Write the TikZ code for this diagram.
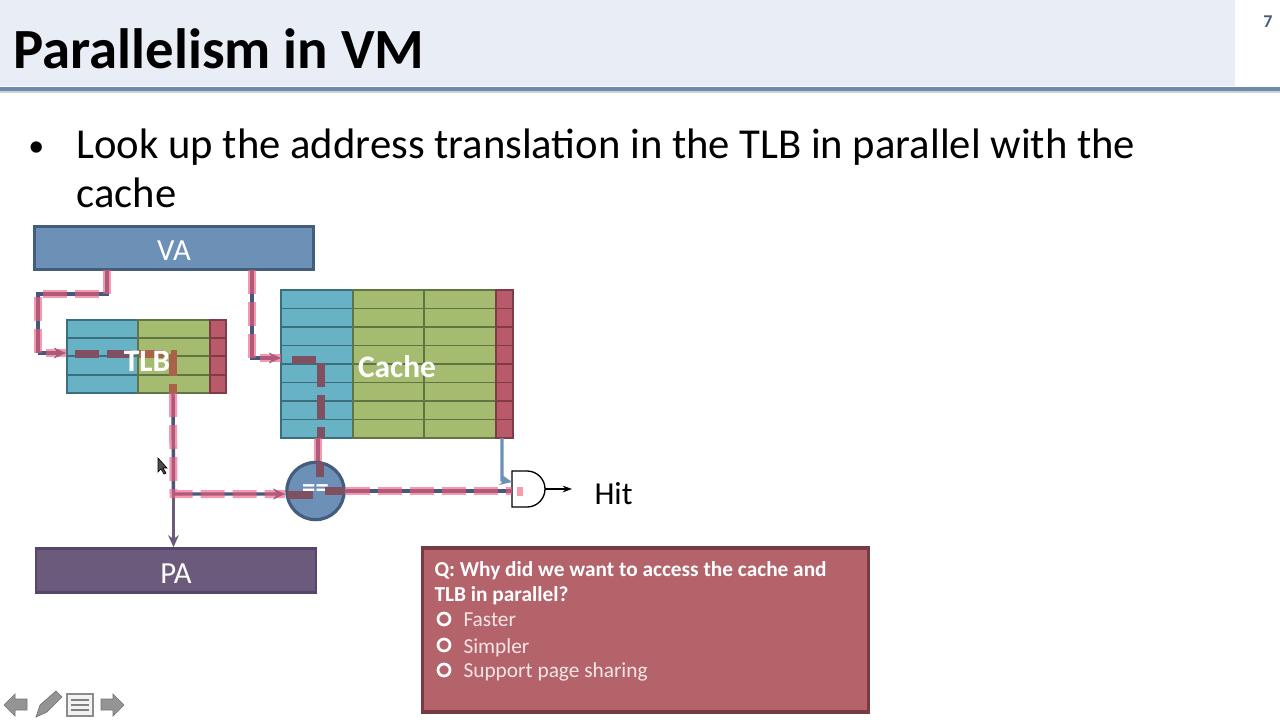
\documentclass[tikz,border=0pt]{standalone}
\usepackage{fontspec}
\setmainfont{Carlito}
\usetikzlibrary{arrows.meta,calc}

\definecolor{headbg}{HTML}{E9EDF5}
\definecolor{headline}{HTML}{6C8CAE}
\definecolor{vablue}{HTML}{6D90B7}
\definecolor{vaedge}{HTML}{445D7C}
\definecolor{paviolet}{HTML}{6B5A7C}
\definecolor{paedge}{HTML}{55476A}
\definecolor{cellteal}{HTML}{67B3C5}
\definecolor{tealedge}{HTML}{3C6F7E}
\definecolor{cellgreen}{HTML}{A5BC70}
\definecolor{greenedge}{HTML}{5F7543}
\definecolor{cellred}{HTML}{B95A6B}
\definecolor{rededge}{HTML}{7E3C48}
\definecolor{wirepink}{HTML}{F0597C}
\definecolor{wireslate}{HTML}{46597A}
\definecolor{dashmaroon}{HTML}{7F4F62}
\definecolor{dashbrown}{HTML}{A8624A}
\definecolor{quizred}{HTML}{B4636B}
\definecolor{quizedge}{HTML}{7A3A44}
\definecolor{quiztext}{HTML}{F5E6E6}

\tikzset{
    every picture/.style={line width=0.75pt},
    bar/.style={draw=vaedge,line width=2pt,fill=vablue,text=white,font=\fontsize{23}{27}\selectfont,inner sep=0pt},
    tablabel/.style={text=white,inner sep=0pt,font=\bfseries\fontsize{23.5}{28}\selectfont},
    wire/.style={draw=wireslate,line width=2.6pt,-{Stealth[length=9pt,width=8pt]}},
    plainwire/.style={draw=wireslate,line width=2.6pt},
    pinkdash/.style={draw=wirepink,opacity=0.62,line width=6pt,dash pattern=on 18pt off 6pt},
    celldash/.style={line width=5.5pt,dash pattern=on 18pt off 6pt},
    bodytext/.style={anchor=base west,inner sep=0pt,font=\fontsize{32}{38}\selectfont},
    quizhead/.style={anchor=base west,inner sep=0pt,text=white,font=\bfseries\fontsize{16}{19}\selectfont},
    quizitem/.style={anchor=base west,inner sep=0pt,text=quiztext,font=\fontsize{16}{19}\selectfont},
    quizring/.style={circle,draw=white,line width=2pt,minimum size=9pt,inner sep=0pt},
    navicon/.style={fill=black!42,draw=black!55,line width=0.5pt}
}

\begin{document}
\begin{tikzpicture}[x=0.75pt,y=0.75pt,yscale=-1,xscale=1]
    \useasboundingbox (0,0) rectangle (1280,720);

    %Header
    \fill [headbg] (0,0) rectangle (1235,86);
    \fill [black!18] (0,91) rectangle (1280,93);
    \fill [headline] (0,87) rectangle (1280,91);

    % Text Node
    \node (title) at (13,69) [anchor=base west,inner sep=0pt,font=\bfseries\fontsize{42.6}{50}\selectfont] {Parallelism in VM};
    % Text Node
    \node (pagenum) at (1268,22) [inner sep=0pt,text=vaedge,font=\bfseries\fontsize{13.5}{16}\selectfont] {7};
    % Text Node
    \node (bullet) at (28,157) [bodytext,font=\fontsize{24}{28}\selectfont] {•};
    % Text Node
    \node (lineone) at (76,159) [bodytext] {Look up the address translation in the TLB in parallel with the};
    % Text Node
    \node (linetwo) at (76,208) [bodytext] {cache};

    %VA and PA bars
    \node (va) at (174,248) [bar,minimum width=209pt,minimum height=32pt] {\raisebox{-9.5pt}[0pt][0pt]{VA}};
    \node (pa) at (176,570.5) [bar,draw=paedge,fill=paviolet,minimum width=210pt,minimum height=33pt] {\raisebox{-9.5pt}[0pt][0pt]{PA}};

    %TLB
    \fill [cellteal] (67,320) rectangle (138,393);
    \fill [cellgreen] (138,320) rectangle (210,393);
    \fill [cellred] (210,320) rectangle (226,393);
    \draw [tealedge,line width=1.2pt] (67,338) -- (138,338) (67,356) -- (138,356) (67,375) -- (138,375) (67,320) rectangle (138,393);
    \draw [greenedge,line width=1.2pt] (138,338) -- (210,338) (138,356) -- (210,356) (138,375) -- (210,375) (138,320) rectangle (210,393);
    \draw [rededge,line width=1.2pt] (210,338) -- (226,338) (210,356) -- (226,356) (210,375) -- (226,375) (210,320) rectangle (226,393);

    %Cache
    \fill [cellteal] (281,290) rectangle (353,438);
    \fill [cellgreen] (353,290) rectangle (496,438);
    \fill [cellred] (496,290) rectangle (513,438);
    \draw [tealedge,line width=1.2pt] (281,308.5) -- (353,308.5) (281,327) -- (353,327) (281,345.5) -- (353,345.5) (281,364) -- (353,364) (281,382.5) -- (353,382.5) (281,401) -- (353,401) (281,419.5) -- (353,419.5) (281,290) rectangle (353,438);
    \draw [greenedge,line width=1.2pt] (353,308.5) -- (496,308.5) (353,327) -- (496,327) (353,345.5) -- (496,345.5) (353,364) -- (496,364) (353,382.5) -- (496,382.5) (353,401) -- (496,401) (353,419.5) -- (496,419.5) (353,290) rectangle (496,438) (424,290) -- (424,438);
    \draw [rededge,line width=1.2pt] (496,308.5) -- (513,308.5) (496,327) -- (513,327) (496,345.5) -- (513,345.5) (496,364) -- (513,364) (496,382.5) -- (513,382.5) (496,401) -- (513,401) (496,419.5) -- (513,419.5) (496,290) rectangle (513,438);

    %Named points of the wires
    \coordinate (tlbin) at (66,353);
    \coordinate (tlbout) at (173,393);
    \coordinate (cachein) at (281,358);
    \coordinate (cacheout) at (318,438);
    \coordinate (tagout) at (502,438);
    \coordinate (split) at (173.5,494);
    \coordinate (gatetop) at (512,482);
    \coordinate (gatemid) at (512,491);
    \coordinate (gateout) at (545,489);

    %Comparator and gate
    \node (cmp) at (315.5,491) [circle,draw=vaedge,line width=2.4pt,fill=vablue,minimum size=43pt,inner sep=0pt,text=white,font=\bfseries\fontsize{20}{22}\selectfont] {==};
    \draw [black,line width=1pt] (512,471) -- (527,471) arc (-90:90:18 and 18) -- (512,507) -- cycle;

    %Slate wires
    \draw [plainwire] (107,270) |- (38,294) -- (38,353);
    \draw [wire] (38,353) -- (tlbin);
    \draw [wire] (252,270) |- (cachein);
    \draw [wire] (tlbout) -- (split) -- (cmp.west |- split);
    \draw [wire,draw=paviolet] (split) -- (pa.north -| split);
    \draw [plainwire] (cacheout) -- (cmp.north -| cacheout);
    \draw [plainwire] (cmp.east |- gatemid) -- (gatemid);
    \draw [wire,draw=vablue] (tagout) -- (502,480) -- (gatetop);
    \draw [black,line width=1pt,-{Stealth[length=7pt,width=5pt]}] (gateout) -- (572,489);

    %Pink dashes outside the boxes
    \draw [pinkdash] (107,270) |- (38,294) -- (38,353) -- (tlbin);
    \draw [pinkdash] (252,270) |- (cachein);
    \draw [pinkdash] (173,393) -- (split) -- (cmp.west |- split);
    \draw [pinkdash] (cacheout) -- (cmp.north -| cacheout);
    \draw [pinkdash] (cmp.east |- gatemid) -- (gatemid);
    \fill [wirepink,opacity=0.6] (517,487) rectangle (523,496);

    %Dashes inside the boxes
    \draw [celldash,draw=dashmaroon] (75,354) -- (131,354);
    \draw [celldash,draw=dashbrown] (139,354) -- (173,354) -- (173,393);
    \draw [celldash,draw=dashmaroon] (292,360) -- (321,360) -- (321,438);
    \draw [celldash,draw=dashmaroon,dash pattern=] (288,495) -- (313,495);
    \draw [celldash,draw=dashmaroon,dash pattern=] (325,491) -- (345,491);
    \draw [celldash,draw=dashmaroon,dash pattern=] (320,462) -- (320,477);

    % Text Node
    \node (tlblabel) at (147,361) [tablabel] {TLB};
    % Text Node
    \node (cachelabel) at (397,367) [tablabel] {Cache};
    % Text Node
    \node (hit) at (594,504) [anchor=base west,inner sep=0pt,font=\fontsize{24}{28}\selectfont] {Hit};

    %Quiz
    \node (quiz) at (645.5,630) [draw=quizedge,line width=2.4pt,fill=quizred,minimum width=335pt,minimum height=123pt,inner sep=0pt] {};
    % Text Node
    \node (quizq) at (434,576) [quizhead] {Q: Why did we want to access the cache and};
    % Text Node
    \node (quizqtwo) at (434,601) [quizhead] {TLB in parallel?};
    \node (ringa) at (444,619) [quizring] {};
    \node (ringb) at (444,645) [quizring] {};
    \node (ringc) at (444,670) [quizring] {};
    % Text Node
    \node (itema) at (463,626) [quizitem] {Faster};
    % Text Node
    \node (itemb) at (463,653) [quizitem] {Simpler};
    % Text Node
    \node (itemc) at (463,677) [quizitem] {Support page sharing};

    %Mouse cursor
    \draw [black,fill=black!70,line width=0.5pt] (158,458) -- (158,472) -- (161,469) -- (164,474) -- (166,473) -- (163,468) -- (167,468) -- cycle;

    %Navigation icons
    \draw [navicon] (4,705) -- (15,694) -- (15,699) -- (27,699) -- (27,710) -- (15,710) -- (15,716) -- cycle;
    \draw [navicon] (36,717) -- (40,705) -- (56,691) -- (62,697) -- (47,712) -- cycle;
    \draw [black!45,fill=black!5,line width=1pt] (67,694) rectangle (93,716);
    \draw [black!50,line width=1pt] (71,700) -- (89,700) (71,705) -- (89,705) (71,710) -- (89,710);
    \draw [navicon] (124,705) -- (113,694) -- (113,699) -- (101,699) -- (101,710) -- (113,710) -- (113,716) -- cycle;
\end{tikzpicture}
\end{document}
